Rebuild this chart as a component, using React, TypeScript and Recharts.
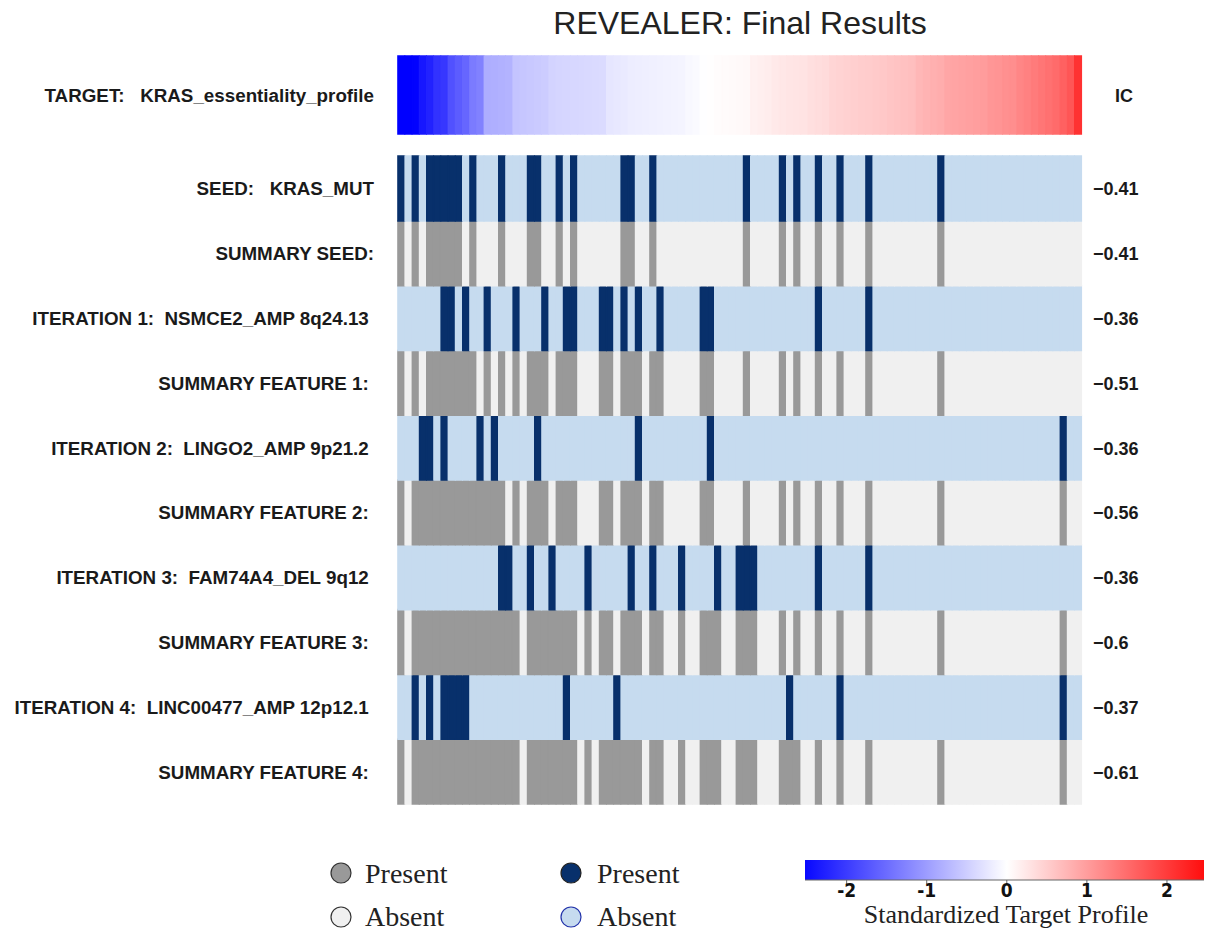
import React from 'react';
import { BarChart, Bar, XAxis, YAxis, Cell, ComposedChart, ReferenceArea } from 'recharts';

// samples are ordered by the target profile (ascending)
const N_SAMPLES = 95;

const TARGET_PROFILE = [
  -2.5, -2.45, -2.4, -2.2, -2.1,
  -1.95, -1.9,
  -1.65, -1.55, -1.45,
  -1.25, -1.2,
  -0.78, -0.76, -0.74, -0.72,
  -0.56, -0.54, -0.52, -0.5, -0.48,
  -0.42, -0.4, -0.39, -0.38, -0.37, -0.36, -0.35, -0.34,
  -0.24, -0.22, -0.2,
  -0.17, -0.16, -0.15, -0.14, -0.13, -0.12, -0.11, -0.1,
  -0.07, -0.05,
  -0.01, 0.01,
  0.03, 0.04, 0.05, 0.06, 0.07,
  0.13, 0.15, 0.17,
  0.21, 0.23, 0.25, 0.26, 0.27,
  0.3, 0.32, 0.34,
  0.4, 0.42, 0.44,
  0.46, 0.47, 0.48, 0.5, 0.52,
  0.55, 0.57, 0.59, 0.61,
  0.68, 0.72, 0.75, 0.78,
  0.84, 0.86, 0.88, 0.9, 0.92, 0.94,
  1.0, 1.02, 1.05, 1.07,
  1.15, 1.2, 1.25,
  1.3, 1.35, 1.4,
  1.5, 1.6,
  1.95,
];

// indices of samples where the feature is present
const SEED = [0, 2, 4, 5, 6, 7, 8, 10, 14, 18, 19, 22, 24, 31, 32, 35, 48, 53, 55, 58, 61, 65, 75];
const SUMMARY_SEED = [0, 2, 4, 5, 6, 7, 8, 10, 14, 18, 19, 22, 24, 31, 32, 35, 48, 53, 55, 58, 61, 65, 75];
const ITER_1 = [6, 7, 9, 12, 16, 20, 23, 24, 28, 29, 31, 33, 36, 42, 43, 58, 65];
const SUMMARY_1 = [0, 2, 4, 5, 6, 7, 8, 9, 10, 12, 14, 16, 18, 19, 20, 22, 23, 24, 28, 29, 31, 32, 33, 35, 36, 42, 43, 48, 53, 55, 58, 61, 65, 75];
const ITER_2 = [3, 4, 6, 11, 13, 19, 33, 43, 92];
const SUMMARY_2 = [0, 2, 3, 4, 5, 6, 7, 8, 9, 10, 11, 12, 13, 14, 16, 18, 19, 20, 22, 23, 24, 28, 29, 31, 32, 33, 35, 36, 42, 43, 48, 53, 55, 58, 61, 65, 75, 92];
const ITER_3 = [14, 15, 18, 21, 26, 32, 35, 39, 44, 47, 48, 49, 58, 65];
const SUMMARY_3 = [0, 2, 3, 4, 5, 6, 7, 8, 9, 10, 11, 12, 13, 14, 15, 16, 18, 19, 20, 21, 22, 23, 24, 26, 28, 29, 31, 32, 33, 35, 36, 39, 42, 43, 44, 47, 48, 49, 53, 55, 58, 61, 65, 75, 92];
const ITER_4 = [2, 4, 6, 7, 8, 9, 23, 30, 54, 61, 92];
const SUMMARY_4 = [0, 2, 3, 4, 5, 6, 7, 8, 9, 10, 11, 12, 13, 14, 15, 16, 18, 19, 20, 21, 22, 23, 24, 26, 28, 29, 30, 31, 32, 33, 35, 36, 39, 42, 43, 44, 47, 48, 49, 53, 54, 55, 58, 61, 65, 75, 92];

const ROW_PRESENT = [SEED, SUMMARY_SEED, ITER_1, SUMMARY_1, ITER_2, SUMMARY_2, ITER_3, SUMMARY_3, ITER_4, SUMMARY_4];
const ROW_LABELS = [
  'SEED:   KRAS_MUT',
  'SUMMARY SEED:',
  'ITERATION 1:  NSMCE2_AMP 8q24.13 ',
  'SUMMARY FEATURE 1: ',
  'ITERATION 2:  LINGO2_AMP 9p21.2 ',
  'SUMMARY FEATURE 2: ',
  'ITERATION 3:  FAM74A4_DEL 9q12 ',
  'SUMMARY FEATURE 3: ',
  'ITERATION 4:  LINC00477_AMP 12p12.1 ',
  'SUMMARY FEATURE 4: ',
];
const ROW_IS_SUMMARY = [false, true, false, true, false, true, false, true, false, true];
const IC_VALUES = ['\u22120.41', '\u22120.41', '\u22120.36', '\u22120.51', '\u22120.36', '\u22120.56', '\u22120.36', '\u22120.6', '\u22120.37', '\u22120.61'];
const TARGET_LABEL = 'TARGET:   KRAS_essentiality_profile';

const CBAR_TICKS = [-2, -1, 0, 1, 2];
const CBAR_MIN = -2.52;
const CBAR_MAX = 2.5;

// layout
const ROW_H = 1;
const GAP_H = 0.34;
const TARGET_H = 1.204;
const TOTAL_H = ROW_PRESENT.length * ROW_H + GAP_H + TARGET_H;
const PLOT_W = 684;
const LABEL_GAP = 24;

const NAVY = '#08306b';
const LIGHT_BLUE = '#c6dbef';
const GREY = '#999999';
const LIGHT_GREY = '#f0f0f0';
const SANS = '"Liberation Sans", Arial, Helvetica, sans-serif';
const SERIF = '"Liberation Serif", "Times New Roman", serif';

const profileColor = (v: number) => {
  const t = Math.min(1, Math.abs(v) / 2.42);
  const c = Math.round(255 * (1 - t));
  return v < 0 ? `rgb(${c},${c},255)` : `rgb(255,${c},${c})`;
};

const rowKeys = ROW_PRESENT.map((_, i) => `row${i}`);

const chartData = Array.from({ length: N_SAMPLES }, (_, i) => {
  const d: any = { sample: i + 1, gap: GAP_H, target: TARGET_H };
  rowKeys.forEach((k) => (d[k] = ROW_H));
  return d;
});

// y ticks: row centres (top row = first label) then the target row
const rowTicks = ROW_PRESENT.map((_, i) => (ROW_PRESENT.length - 1 - i) * ROW_H + ROW_H / 2);
const targetTick = ROW_PRESENT.length * ROW_H + GAP_H + TARGET_H / 2;
const yTicks = [...rowTicks, targetTick];
const leftLabels = [...ROW_LABELS, TARGET_LABEL];
const rightLabels = [...IC_VALUES, 'IC'];

const findTick = (v: number) => yTicks.findIndex((t) => Math.abs(t - v) < 1e-6);

// row name on the left, IC value on the right of the heatmap
const RowTick = (props: any) => {
  const { x, y, payload } = props;
  const idx = findTick(payload.value);
  const isIC = idx === yTicks.length - 1;
  const rightX = x + LABEL_GAP + PLOT_W + 11 + (isIC ? 22 : 0);
  return (
    <g>
      <text x={x} y={y} dy={7} textAnchor="end" fill="#1a1a1a"
        style={{ fontFamily: SANS, fontWeight: 700, fontSize: 18.8, whiteSpace: 'pre' }}>
        {leftLabels[idx]}
      </text>
      <text x={rightX} y={y} dy={7} textAnchor="start" fill="#1a1a1a"
        style={{ fontFamily: SANS, fontWeight: 700, fontSize: 18 }}>
        {rightLabels[idx]}
      </text>
    </g>
  );
};

const GradientBar = (props: any) => {
  const { x, y, width, height } = props;
  const zero = (-CBAR_MIN / (CBAR_MAX - CBAR_MIN)) * 100;
  return (
    <g>
      <defs>
        <linearGradient id="cbarGrad" x1="0" y1="0" x2="1" y2="0">
          <stop offset="0%" stopColor="#0808ff" />
          <stop offset={`${zero}%`} stopColor="#ffffff" />
          <stop offset="100%" stopColor="#ff0a0a" />
        </linearGradient>
      </defs>
      <rect x={x} y={y} width={width} height={height} fill="url(#cbarGrad)" />
    </g>
  );
};

const LegendKey = () => (
  <svg width={1196} height={923} style={{ position: 'absolute', left: 0, top: 0, pointerEvents: 'none' }}>
    <circle cx={333} cy={865} r={10} fill={GREY} stroke="#333" strokeWidth={1.2} />
    <circle cx={333} cy={909} r={10} fill={LIGHT_GREY} stroke="#333" strokeWidth={1.2} />
    <circle cx={563} cy={865} r={10} fill={NAVY} stroke="#222" strokeWidth={1.2} />
    <circle cx={563} cy={909} r={10} fill={LIGHT_BLUE} stroke="#2233aa" strokeWidth={1.2} />
    <g style={{ fontFamily: SERIF, fontSize: 28 }} fill="#222">
      <text x={357} y={875}>Present</text>
      <text x={357} y={918}>Absent</text>
      <text x={589} y={875}>Present</text>
      <text x={589} y={918}>Absent</text>
    </g>
  </svg>
);

const App: React.FC = () => {
  const barSize = PLOT_W / N_SAMPLES;
  const cbarData = [{ v: CBAR_MIN, y: 0 }, { v: CBAR_MAX, y: 1 }];

  return (
    <div style={{ position: 'relative', width: 1196, height: 923, background: '#fff' }}>
      <div style={{ position: 'absolute', left: 390, top: -1, width: PLOT_W, textAlign: 'center',
        fontFamily: SANS, fontSize: 32, lineHeight: '32px', color: '#222' }}>
        REVEALER: Final Results
      </div>

      <div style={{ position: 'absolute', left: 0, top: 0 }}>
        <BarChart width={1196} height={830} data={chartData}
          margin={{ top: 48, right: 122, left: 0, bottom: 34 }}
          barCategoryGap={0} barGap={0}>
          <XAxis dataKey="sample" type="category" hide />
          <YAxis type="number" domain={[0, TOTAL_H]}
            ticks={yTicks} interval={0} width={390} axisLine={false} tickLine={false}
            tickSize={6} tickMargin={LABEL_GAP - 6} tick={<RowTick />} />
          {rowKeys.slice().reverse().map((k) => {
            const r = rowKeys.indexOf(k);
            const present = new Set(ROW_PRESENT[r]);
            const on = ROW_IS_SUMMARY[r] ? GREY : NAVY;
            const off = ROW_IS_SUMMARY[r] ? LIGHT_GREY : LIGHT_BLUE;
            return (
              <Bar key={k} dataKey={k} stackId="s" barSize={barSize} isAnimationActive={false}>
                {chartData.map((_, i) => {
                  const c = present.has(i) ? on : off;
                  return <Cell key={i} fill={c} stroke={c} strokeWidth={1.6} />;
                })}
              </Bar>
            );
          })}
          <Bar dataKey="gap" stackId="s" barSize={barSize} fill="transparent" isAnimationActive={false} />
          <Bar dataKey="target" stackId="s" barSize={barSize} isAnimationActive={false}>
            {TARGET_PROFILE.map((v, i) => {
              const c = profileColor(v);
              return <Cell key={i} fill={c} stroke={c} strokeWidth={1.6} />;
            })}
          </Bar>
        </BarChart>
      </div>

      <LegendKey />

      <div style={{ position: 'absolute', left: 785, top: 852 }}>
        <ComposedChart width={416} height={70} data={cbarData}
          margin={{ top: 0, right: 2, left: 12, bottom: 0 }}>
          <XAxis dataKey="v" type="number" domain={[CBAR_MIN, CBAR_MAX]} ticks={CBAR_TICKS}
            allowDataOverflow height={50} tickSize={4} tickMargin={0}
            axisLine={{ stroke: '#666' }} tickLine={{ stroke: '#666' }}
            tick={{ fill: '#111', fontFamily: '"Liberation Sans Narrow", "DejaVu Sans Condensed", sans-serif', fontWeight: 700, fontSize: 19 }}
            label={{ value: 'Standardized Target Profile', position: 'insideBottom', offset: 7,
              style: { fontFamily: SERIF, fontSize: 26, fill: '#222' } }} />
          <YAxis dataKey="y" type="number" domain={[0, 1]} hide />
          <ReferenceArea x1={CBAR_MIN} x2={CBAR_MAX} y1={0} y2={1} ifOverflow="visible" shape={<GradientBar />} />
        </ComposedChart>
      </div>
    </div>
  );
};

export default App;
